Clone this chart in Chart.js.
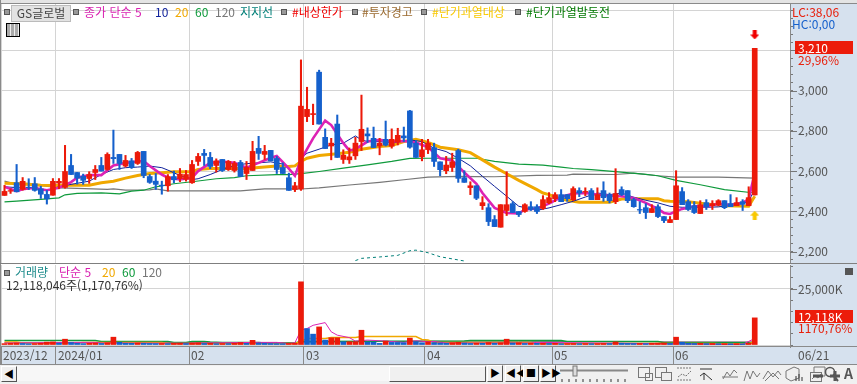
<!DOCTYPE html>
<html lang="ko">
<head>
<meta charset="utf-8">
<title>GS글로벌</title>
<script src="https://cdn.jsdelivr.net/npm/chart.js@4"></script>
<style>
html, body { margin: 0; padding: 0; background: #f0f0f0; }
#wrap { position: relative; width: 857px; height: 384px; overflow: hidden; font-family: "Noto Sans CJK KR", sans-serif; font-size: 12px; }
#wrap div, #wrap canvas, #wrap svg { position: absolute; }
canvas { z-index: 1; }
.t { z-index: 2; white-space: nowrap; line-height: 14px; }
.sq { z-index: 2; width: 4px; height: 4px; background: #999; border: 1px solid #555; }
.band { background: #d6e1ee; z-index: 0; }
.btn { z-index: 2; background: #f0f0f0; box-sizing: border-box; border: 1px solid; border-color: #fff #555 #555 #fff; color: #000; text-align: center; line-height: 14px; font-size: 10px; }
</style>
</head>
<body>
<div id="wrap">
  <div style="left:0;top:0;width:857px;height:3px;background:#e4e4e4;border-bottom:1px solid #8a8a8a;z-index:3"></div>
  <div style="left:0;top:4px;width:790px;height:343px;background:#fff"></div>
  <div style="left:0;top:0;width:1px;height:364px;background:#8a8a8a;z-index:3"></div>
  <div class="band" style="left:791px;top:4px;width:66px;height:360px"></div>
  <div class="band" style="left:0;top:347px;width:857px;height:17px"></div>
  <div style="left:0;top:263px;width:857px;height:1px;background:#7f7f7f;z-index:3"></div>
  <div style="left:0;top:346px;width:857px;height:1px;background:#8a8a8a;z-index:3"></div>
  <div style="left:0;top:364px;width:857px;height:1px;background:#8a8a8a;z-index:3"></div>

  <canvas id="priceChart" width="857" height="264" style="left:0;top:0"></canvas>
  <canvas id="volChart" width="857" height="100" style="left:0;top:264px"></canvas>

  <div class="sq" style="left:4px;top:9px"></div>
  <div class="t" style="left:11px;top:5px;width:58px;height:15px;background:#e2e2e2;border:1px solid #bbb;box-sizing:content-box;text-align:center;color:#444">GS글로벌</div>
  <div class="sq" style="left:73px;top:9px"></div>
  <div class="t" style="left:84px;top:5px;color:#d81eb0">종가 단순 5</div>
  <div class="t" style="left:155px;top:5px;color:#12239c">10</div>
  <div class="t" style="left:175px;top:5px;color:#f0a800">20</div>
  <div class="t" style="left:195px;top:5px;color:#0f9a3c">60</div>
  <div class="t" style="left:215px;top:5px;color:#777">120</div>
  <div class="t" style="left:240px;top:5px;color:#007f78">지지선</div>
  <div class="sq" style="left:281px;top:9px"></div>
  <div class="t" style="left:292px;top:5px;color:#f00000">#내상한가</div>
  <div class="sq" style="left:352px;top:9px"></div>
  <div class="t" style="left:362px;top:5px;color:#9a6a30">#투자경고</div>
  <div class="sq" style="left:421px;top:9px"></div>
  <div class="t" style="left:432px;top:5px;color:#f8c800">#단기과열대상</div>
  <div class="sq" style="left:515px;top:9px"></div>
  <div class="t" style="left:526px;top:5px;color:#007800">#단기과열발동전</div>
  <div style="left:6px;top:23px;width:12px;height:12px;border:1px solid #000;background:repeating-linear-gradient(90deg,#aaa 0 3px,#eee 3px 4px);z-index:2"></div>

  <div class="sq" style="left:4px;top:270px"></div>
  <div class="t" style="left:15px;top:265px;color:#1e8c8c">거래량</div>
  <div class="t" style="left:59px;top:265px;color:#d81eb0">단순 5</div>
  <div class="t" style="left:102px;top:265px;color:#f0a800">20</div>
  <div class="t" style="left:122px;top:265px;color:#0f9a3c">60</div>
  <div class="t" style="left:142px;top:265px;color:#777">120</div>
  <div class="t" style="left:6px;top:278px;color:#333">12,118,046주(1,170,76%)</div>

  <div class="t" style="left:792px;top:5px;color:#e8200c">LC:38,06</div>
  <div class="t" style="left:792px;top:17px;color:#1560cc">HC:0,00</div>
  <div class="t" style="left:795px;top:41px;width:58px;height:13px;background:#ec1c0a;color:#fff;text-indent:3px;line-height:13px">3,210</div>
  <div class="t" style="left:798px;top:53px;color:#e8200c">29,96%</div>
  <div class="t" style="left:795px;top:310px;width:58px;height:13px;background:#ec1c0a;color:#fff;text-indent:3px;line-height:13px">12,118K</div>
  <div class="t" style="left:798px;top:321px;color:#e8200c">1170,76%</div>
  <div class="t" style="left:798px;top:348px;color:#555">06/21</div>
  <div style="left:845px;top:268px;width:8px;height:7px;background:#555;z-index:2"></div>

  <div style="left:0;top:365px;width:857px;height:19px;background:#f0f0f0"></div>
  <div style="left:17px;top:366px;width:372px;height:15px;background:#f7f7f7"></div>
  <div class="btn" style="left:1px;top:366px;width:16px;height:16px">◀</div>
  <div class="btn" style="left:389px;top:366px;width:97px;height:16px"></div>
  <div class="btn" style="left:487px;top:365px;width:16px;height:17px">▶</div>
  <div class="btn" style="left:505px;top:365px;width:16px;height:17px">◀◀</div>
  <div class="btn" style="left:523px;top:365px;width:16px;height:17px">■</div>
  <div class="btn" style="left:540px;top:365px;width:16px;height:17px">▶▶</div>
  <svg style="left:558px;top:365px;z-index:2" width="299" height="19" fill="none" stroke="#777">
    <path d="M2 5.5H70" stroke="#888" stroke-width="2"/>
    <rect x="15" y="1" width="4" height="10" fill="#ddd"/>
    <path d="M4 14v3M11 14v3M18 14v3M25 14v3M32 14v3M39 14v3M46 14v3M53 14v3M60 14v3M67 14v3" stroke="#333"/>
    <rect x="80.5" y="2.5" width="11" height="10"/><rect x="87.5" y="8.5" width="7" height="7"/>
    <rect x="97.5" y="2.5" width="11" height="10"/><rect x="103.5" y="7.5" width="10" height="8" fill="#eee"/>
    <path d="M119 3h14M119 15h14M120 12l4-3 4 2 5-5" stroke-dasharray="2 1"/>
    <path d="M142 4h12M146 15V8l-4 3M146 8l8 7" stroke="#333"/>
    <path d="M165 14l4-7 3 4 4-6 3 3M164 12h16"/>
    <path d="M186 16l3-10 3 8 3-8 4 6 3-4"/>
    <path d="M205 14l5-8 5 6 5-6 3 4M207 16l8-8 6 6"/>
    <path d="M228 6l8-4 5 2v9l-8 3-5-3z"/><path d="M238 11v5M241 9v7M244 12v4" stroke="#333"/>
    <rect x="252.5" y="7.5" width="11" height="9"/><path d="M256 7V2h11v9h-3M254 14l3-3 3 2 3-4"/>
    <circle cx="272" cy="7" r="4.5" stroke="#555" stroke-width="1.5"/><path d="M275 10l5 6" stroke="#555" stroke-width="2"/>
  </svg>
  <svg style="left:810px;top:365px;z-index:2" width="47" height="19" fill="none">
    <path d="M3 11h10M20 11h10M25 6v10" stroke="#555" stroke-width="3"/>
  </svg>
  <div class="t" style="left:844px;top:366px;color:#555;font-weight:700;font-size:14px">A</div>
</div>

<script>
// values (one per trading day, 2023/12 .. 06/21)
const open = [
  2479,2500,2542,2509,2520,2537,2512,2484,2480,2540,
  2519,2628,2593,2575,2563,2593,2628,2608,2668,2683,
  2625,2651,2638,2698,2573,2550,2530,2527,2573,2563,
  2559,2542,2648,2688,2668,2628,2658,2608,2603,2643,
  2588,2603,2713,2683,2703,2663,2618,2567,2508,2511,
  2871,2881,3092,2768,2725,2834,2658,2656,2676,2747,
  2785,2763,2725,2758,2724,2744,2775,2899,2739,2671,
  2707,2717,2646,2602,2618,2702,2567,2518,2527,2428,
  2418,2359,2321,2404,2438,2399,2399,2423,2423,2414,
  2443,2463,2483,2483,2458,2503,2496,2503,2458,2503,
  2483,2448,2508,2503,2458,2409,2418,2394,2423,2374,
  2344,2359,2498,2448,2428,2389,2443,2428,2433,2453,
  2438,2428,2448,2428,2481];
const close = [
  2499,2503,2497,2549,2517,2504,2485,2462,2549,2549,
  2598,2583,2565,2554,2583,2608,2600,2683,2662,2638,
  2653,2617,2693,2578,2544,2534,2527,2573,2557,2585,
  2583,2633,2673,2678,2623,2651,2603,2648,2638,2573,
  2618,2698,2688,2698,2651,2608,2588,2504,2527,2923,
  2907,2886,2834,2712,2739,2668,2679,2671,2739,2808,
  2775,2717,2739,2729,2758,2778,2765,2719,2668,2706,
  2739,2648,2607,2630,2646,2564,2544,2527,2465,2443,
  2349,2324,2433,2433,2394,2384,2433,2409,2399,2458,
  2468,2483,2448,2463,2513,2491,2499,2458,2483,2468,
  2453,2488,2483,2453,2423,2406,2394,2414,2374,2354,
  2359,2527,2433,2409,2394,2433,2423,2438,2453,2418,
  2423,2443,2435,2468,3210];
const high = [
  2529,2512,2633,2568,2562,2568,2525,2504,2563,2563,
  2728,2683,2593,2585,2597,2628,2668,2691,2804,2683,
  2678,2663,2698,2698,2583,2588,2550,2583,2600,2613,
  2603,2653,2688,2708,2693,2661,2658,2653,2648,2653,
  2648,2748,2773,2728,2703,2673,2641,2590,2544,3153,
  3017,2933,3102,2810,2763,2879,2706,2715,2768,2978,
  2815,2819,2763,2849,2810,2813,2819,2902,2752,2758,
  2758,2739,2646,2673,2689,2709,2602,2547,2527,2473,
  2438,2379,2433,2597,2448,2399,2438,2448,2433,2478,
  2493,2493,2508,2483,2522,2517,2517,2513,2517,2547,
  2491,2612,2522,2503,2466,2448,2438,2433,2433,2374,
  2374,2602,2518,2458,2448,2453,2458,2453,2458,2453,
  2483,2468,2458,2522,3210];
const low = [
  2479,2489,2497,2505,2508,2500,2464,2436,2480,2512,
  2515,2583,2535,2534,2539,2558,2600,2605,2638,2608,
  2620,2613,2633,2567,2539,2509,2485,2500,2542,2547,
  2550,2539,2628,2628,2612,2595,2598,2603,2595,2573,
  2558,2603,2658,2658,2651,2588,2588,2504,2498,2504,
  2846,2831,2834,2712,2656,2668,2638,2638,2658,2702,
  2742,2717,2681,2725,2714,2730,2747,2714,2668,2651,
  2687,2623,2577,2587,2598,2544,2544,2483,2458,2409,
  2329,2324,2321,2379,2394,2374,2395,2404,2389,2409,
  2438,2448,2448,2450,2453,2473,2478,2458,2458,2450,
  2442,2438,2478,2443,2420,2389,2364,2394,2369,2344,
  2344,2359,2433,2404,2389,2389,2409,2409,2428,2413,
  2423,2428,2404,2428,2481];
const volume = [
  620,760,900,700,560,640,800,1300,1400,840,
  2600,1100,780,620,800,900,700,1000,3500,1200,
  800,750,900,800,700,650,700,600,750,800,
  650,900,1000,700,750,600,650,640,800,1100,
  750,2100,900,800,700,650,620,700,750,28200,
  7350,4850,8085,2200,3230,3230,1470,1500,1500,6600,
  1320,1280,735,1760,1170,1150,1030,3090,1470,1030,
  1400,1100,900,800,1000,1200,900,700,800,750,
  1100,800,1000,2600,900,1000,700,800,750,800,
  700,760,600,650,700,600,650,600,620,700,
  650,1400,800,700,650,700,600,800,850,900,
  700,3500,1200,800,700,750,650,700,600,620,
  580,600,550,800,12118];

// moving averages: day index + value where the line could be read
const ma5Day = [0,2,3,5,6,7,9,11,12,14,16,18,20,22,23,24,26,27,29,31,32,34,36,38,40,42,44,45,46,47,48,49,51,53,54,56,57,58,60,62,64,66,68,70,72,74,76,78,79,81,83,85,86,88,90,92,94,96,98,100,102,104,106,108,109,110,111,112,114,116,118,120,122,123,124];
const ma5 = [2522,2500,2510,2517,2510,2505,2517,2545,2567,2580,2580,2628,2641,2648,2650,2625,2583,2567,2558,2567,2600,2641,2648,2641,2617,2641,2666,2675,2645,2612,2577,2656,2763,2851,2829,2739,2702,2709,2747,2755,2747,2750,2742,2719,2664,2653,2593,2537,2491,2417,2392,2389,2409,2414,2438,2471,2489,2491,2483,2478,2475,2466,2442,2412,2392,2387,2400,2412,2425,2425,2437,2433,2442,2461,2590];
const ma10Day = [0,5,7,9,11,14,16,18,20,22,24,26,27,29,31,32,34,36,38,40,42,44,46,47,48,49,50,52,54,56,58,59,60,62,64,67,69,71,73,75,77,79,81,83,85,88,90,92,94,96,98,100,102,104,106,108,110,112,114,116,118,120,122,123,124];
const ma10 = [2522,2512,2505,2522,2534,2550,2583,2608,2617,2620,2625,2617,2605,2578,2558,2562,2583,2608,2628,2637,2641,2646,2635,2615,2582,2664,2689,2709,2730,2739,2775,2755,2747,2747,2739,2755,2747,2714,2697,2664,2626,2574,2524,2475,2425,2405,2417,2433,2450,2471,2491,2483,2491,2470,2455,2442,2425,2420,2420,2420,2422,2430,2438,2450,2510];
const ma20Day = [0,3,6,9,11,14,16,18,20,22,24,26,28,31,32,34,37,40,43,45,47,48,49,50,52,55,57,59,62,64,66,68,70,72,75,77,79,81,83,85,88,89,90,92,94,95,100,102,105,108,109,110,113,116,119,123,124];
const ma20 = [2539,2537,2530,2529,2530,2530,2542,2550,2565,2578,2588,2592,2597,2597,2608,2613,2613,2613,2620,2625,2623,2626,2648,2664,2678,2686,2694,2709,2722,2727,2747,2758,2742,2719,2706,2692,2656,2620,2587,2554,2508,2491,2483,2461,2450,2445,2445,2461,2463,2463,2453,2450,2447,2437,2428,2425,2475];
const ma60Day = [0,2,6,9,10,12,16,19,21,23,25,28,31,35,38,40,45,47,49,52,56,60,64,67,70,75,78,81,85,89,92,94,97,101,106,108,111,115,119,124];
const ma60 = [2447,2451,2459,2467,2482,2489,2492,2487,2500,2505,2522,2537,2547,2562,2568,2577,2582,2582,2587,2598,2615,2631,2648,2663,2664,2664,2664,2648,2635,2630,2620,2613,2607,2597,2584,2577,2554,2532,2508,2491];
const ma120Day = [0,2,6,9,12,17,18,20,24,25,27,39,43,47,49,52,57,62,66,70,75,81,88,93,94,101,104,108,111,118,124];
const ma120 = [2550,2534,2529,2517,2514,2509,2512,2505,2507,2512,2502,2502,2512,2512,2511,2517,2531,2544,2557,2570,2574,2572,2579,2580,2585,2583,2590,2577,2570,2570,2565];
const supportDay = [58,59,62,65,67,68,70,72,76];
const support = [2155,2166,2173,2181,2204,2207,2194,2174,2153];

const volMa5Day = [0,12,15,16,30,42,45,47,48,49,50,51,53,54,55,57,58,60,63,66,68,70,71,73,87,88,119,122,124];
const volMa5 = [900,1180,1180,900,800,1180,1180,700,1030,6600,7350,8800,10000,5900,4400,3300,1760,2200,1760,1180,1900,1470,1600,900,900,1180,300,300,2900];
const volMa20Day = [0,2,3,12,13,26,27,48,49,50,53,54,58,59,68,69,70,71,87,88,117,118,123,124];
const volMa20 = [1320,1320,880,880,1180,1180,735,735,1620,2940,2940,3380,3380,3820,3820,2500,2200,1180,1180,735,735,590,590,1470];
const volMa60Day = [0,15,16,27,28,30,31,33,34,36,42,43,48,49,76,77,92,93,108,109,123,124];
const volMa60 = [2060,2060,1620,1620,1180,1180,1620,1620,1320,1180,1180,880,880,1620,1760,2060,2060,1620,1620,1030,1030,1180];
const volMa120Day = [0,48,49,70,85,100,124];
const volMa120 = [1030,1100,1300,1700,1650,1500,1400];

// month boundaries on the x axis (between the last and first trading day)
const monthTicks = [-0.58,8.5,30.5,49.5,69.5,90.5,110.5];
const monthLabels = ["2023/12","2024/01","02","03","04","05","06"];
const priceTicks = [3400,3360,3320,3280,3240,3200,3160,3120,3080,3040,3000,2960,2920,2880,2840,2800,2760,2720,2680,2640,2600,2560,2520,2480,2440,2400,2360,2320,2280,2240,2200,2160];
const priceLabelled = [3000,2800,2600,2400,2200];
const volTicks = [0,5000,10000,15000,20000,25000,30000,35000];
const limitUpDay = [124], limitUpMark = [3277];
const overheatDay = [124], overheatMark = [2381];

const RED = "rgb(236,26,10)", BLUE = "rgb(21,96,204)";
const days = open.map((v, i) => i);

function pts(xs, ys) {
    return xs.map((x, i) => ({x: x, y: ys[i]}));
}

function lineSet(label, xs, ys, color, width, order, extra) {
    return Object.assign({
        type: "line", label: label, data: pts(xs, ys), borderColor: color, borderWidth: width,
        pointRadius: 0, tension: 0, order: order
    }, extra || {});
}

function arrowIcon(color, down) {
    const c = document.createElement("canvas");
    c.width = 9; c.height = 9;
    const g = c.getContext("2d");
    g.fillStyle = color;
    if (down) { g.translate(0, 9); g.scale(1, -1); }
    g.beginPath();
    g.moveTo(4.5, 0); g.lineTo(9, 5); g.lineTo(6.5, 5); g.lineTo(6.5, 9); g.lineTo(2.5, 9); g.lineTo(2.5, 5); g.lineTo(0, 5);
    g.closePath(); g.fill();
    return c;
}

function noPadding(s) {
    s.paddingLeft = 0; s.paddingRight = 0; s.paddingTop = 0; s.paddingBottom = 0;
}

function xScale(showLabels) {
    return {
        type: "linear", min: -0.58, max: 129.83, offset: false,
        afterBuildTicks: s => { s.ticks = monthTicks.map(v => ({value: v})); },
        afterFit: s => { s.height = showLabels ? 17 : 0; noPadding(s); },
        grid: {color: "#d4d4d4", lineWidth: 1, offset: false, drawTicks: showLabels, tickLength: 17, tickColor: "#8a8a8a"},
        border: {display: false},
        ticks: {
            display: showLabels, autoSkip: false, maxRotation: 0, minRotation: 0,
            align: "start", labelOffset: 2, padding: -16, color: "#555",
            font: {family: "Noto Sans CJK KR", size: 12},
            callback: (v, i) => monthLabels[i]
        }
    };
}

function yScale(min, max, ticks, isMajor, label) {
    return {
        position: "right", min: min, max: max,
        afterBuildTicks: s => { s.ticks = ticks.map(v => ({value: v})); },
        afterFit: s => { s.width = 67; noPadding(s); },
        grid: {
            color: c => isMajor(c.tick.value) ? "#d4d4d4" : "transparent",
            tickColor: "#777", tickLength: 3
        },
        border: {color: "#8a8a8a"},
        ticks: {
            autoSkip: false, padding: 5, color: "#555", crossAlign: "near",
            font: {family: "Noto Sans CJK KR", size: 12}, callback: label
        }
    };
}

// the labelled ticks are longer than the minor ones
const longTicks = {
    id: "longTicks",
    afterDraw(chart, args, opts) {
        const s = chart.scales.y, g = chart.ctx;
        g.save();
        g.strokeStyle = "#777";
        s.ticks.forEach(t => {
            if (opts.values.includes(t.value)) {
                const y = Math.round(s.getPixelForValue(t.value)) + 0.5;
                g.beginPath(); g.moveTo(s.left, y); g.lineTo(s.left + 7, y); g.stroke();
            }
        });
        g.restore();
    }
};

new Chart(document.getElementById("priceChart"), {
    type: "bar",
    plugins: [longTicks],
    data: {
        datasets: [
            {label: "몸통", data: days.map(i => ({x: i, y: [open[i], close[i]]})), grouped: false, barThickness: 5,
             backgroundColor: days.map(i => close[i] >= open[i] ? RED : BLUE), order: 1},
            {label: "꼬리", data: days.map(i => ({x: i, y: [low[i], high[i]]})), grouped: false, barThickness: 1.4,
             backgroundColor: days.map(i => close[i] >= open[i] ? RED : BLUE), order: 2},
            lineSet("5", ma5Day, ma5, "#dd22b4", 2.6, 3),
            lineSet("10", ma10Day, ma10, "#12239c", 1, 4),
            lineSet("20", ma20Day, ma20, "#f0a800", 3, 5),
            lineSet("60", ma60Day, ma60, "#0f9a3c", 1.2, 6),
            lineSet("120", ma120Day, ma120, "#777777", 1.2, 7),
            lineSet("지지선", supportDay, support, "#007f78", 1, 8, {borderDash: [3, 3]}),
            lineSet("#내상한가", limitUpDay, limitUpMark, "#f00000", 0, 0, {showLine: false, pointRadius: 5, pointStyle: arrowIcon("#f00000", true)}),
            lineSet("#단기과열대상", overheatDay, overheatMark, "#f8c800", 0, 0, {showLine: false, pointRadius: 5, pointStyle: arrowIcon("#f8c800", false)})
        ]
    },
    options: {
        responsive: false, animation: false, events: [],
        layout: {autoPadding: false, padding: {left: 1, top: 4, right: 0, bottom: 0}},
        plugins: {legend: {display: false}, tooltip: {enabled: false}, longTicks: {values: priceLabelled.concat([3200])}},
        scales: {
            x: xScale(false),
            y: yScale(2138, 3431, priceTicks, v => v % 200 === 0,
                v => priceLabelled.includes(v) ? v.toLocaleString("en-US") : "")
        }
    }
});

new Chart(document.getElementById("volChart"), {
    type: "bar",
    plugins: [longTicks],
    data: {
        datasets: [
            {label: "거래량", data: days.map(i => ({x: i, y: volume[i]})), grouped: false, barThickness: 5,
             backgroundColor: days.map(i => i === 0 || volume[i] >= volume[i - 1] ? RED : BLUE), order: 1},
            lineSet("5", volMa5Day, volMa5, "#dd22b4", 1, 2),
            lineSet("20", volMa20Day, volMa20, "#f0a800", 1.5, 3),
            lineSet("60", volMa60Day, volMa60, "#0f9a3c", 1.5, 4),
            lineSet("120", volMa120Day, volMa120, "#777777", 1, 5)
        ]
    },
    options: {
        responsive: false, animation: false, events: [],
        layout: {autoPadding: false, padding: {left: 1, top: 1, right: 0, bottom: 0}},
        plugins: {legend: {display: false}, tooltip: {enabled: false}, longTicks: {values: [25000]}},
        scales: {
            x: xScale(true),
            y: yScale(-880, 35700, volTicks, v => v === 25000 || v === 0,
                v => v === 25000 ? "25,000K" : "")
        }
    }
});
</script>
</body>
</html>
